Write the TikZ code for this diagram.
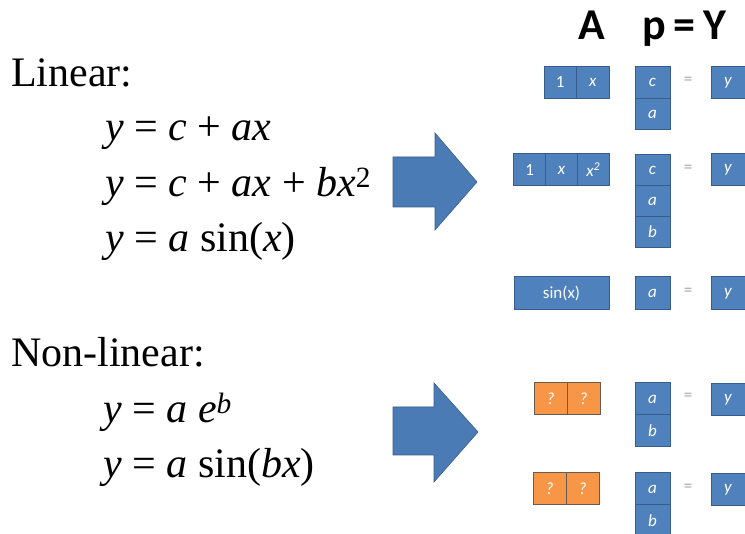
\documentclass[tikz,border=0pt]{standalone}
\usepackage{fontspec}
\setmainfont{Liberation Serif}
\newfontfamily\tnr{Liberation Serif}
\newfontfamily\carlito{Carlito}
\definecolor{blu}{HTML}{4F81BD}
\definecolor{bord}{HTML}{385D8A}
\definecolor{org}{HTML}{F79646}
\definecolor{obord}{HTML}{6B5B4E}
\begin{document}
\begin{tikzpicture}[x=1pt,y=-1pt,
  cellb/.style={draw=bord, fill=blu, line width=1pt, minimum width=33pt, minimum height=32pt, inner sep=0pt, text=white, font=\carlito\itshape\fontsize{17}{17}\selectfont},
  cello/.style={cellb, draw=obord, fill=org},
  eqs/.style={font=\fontsize{17}{17}\selectfont\carlito, text=gray!70},
  big/.style={font=\tnr\fontsize{42}{50}\selectfont, anchor=base west, inner sep=0pt},
  hdr/.style={font=\carlito\bfseries\fontsize{44}{44}\selectfont, anchor=base, inner sep=0pt},
  barrow/.style={fill=blu!95!black, draw=bord, line width=0.6pt}]
\useasboundingbox (0,0) rectangle (745,534);

% header
\node[hdr] (hA) at (592,40) {A};
\node[hdr] (hp) at (654,40) {p};
\node[hdr] (heq) at (684,40) {=};
\node[hdr] (hY) at (715,40) {Y};

% left text
\node[big] (lin) at (11,87) {Linear:};
\node[big] (e1) at (105,141) {\textit{y} = \textit{c} + \textit{ax}};
\node[big] (e2) at (105,197) {\textit{y} = \textit{c} + \textit{ax} + \textit{bx}\textsuperscript{2}};
\node[big] (e3) at (105,252) {\textit{y} = \textit{a} sin(\textit{x})};
\node[big] (nlin) at (11,367) {Non-linear:};
\node[big] (e4) at (103,423) {\textit{y} = \textit{a e}\textsuperscript{\textit{b}}};
\node[big] (e5) at (103,478) {\textit{y} = \textit{a} sin(\textit{bx})};

% block arrows
\draw[barrow] (393,157) -- (435,157) -- (435,133) -- (477,182) -- (435,230) -- (435,207) -- (393,207) -- cycle;
\draw[barrow] (393,407) -- (434,407) -- (434,383) -- (478,432) -- (434,482) -- (434,455) -- (393,455) -- cycle;

% row 1
\node[cellb, minimum width=32.5pt] (r1a1) at (560.25,82.5) {\upshape 1};
\node[cellb, minimum width=32.5pt] (r1a2) at (592.75,82.5) {x};
\node[cellb, minimum width=35pt] (r1p1) at (652.5,82.5) {c};
\node[cellb, minimum width=35pt, minimum height=31pt] (r1p2) at (652.5,114) {a};
\node[eqs] (r1eq) at (688,81) {=};
\node[cellb, minimum width=34pt] (r1y) at (728,82.5) {y};

% row 2
\node[cellb, minimum width=31.7pt] (r2a1) at (529.8,170) {\upshape 1};
\node[cellb, minimum width=31.7pt] (r2a2) at (561.5,170) {x};
\node[cellb, minimum width=31.7pt] (r2a3) at (593.2,170) {x\textsuperscript{2}};
\node[cellb, minimum width=35pt, minimum height=31pt] (r2p1) at (652.5,170) {c};
\node[cellb, minimum width=35pt, minimum height=31pt] (r2p2) at (652.5,201) {a};
\node[cellb, minimum width=35pt, minimum height=31pt] (r2p3) at (652.5,232) {b};
\node[eqs] (r2eq) at (688,169) {=};
\node[cellb, minimum width=34pt] (r2y) at (728,170) {y};

% row 3
\node[cellb, minimum width=95pt, minimum height=33pt] (r3a1) at (561.5,293.5) {\upshape sin(x)};
\node[cellb, minimum width=35pt, minimum height=33pt] (r3p1) at (652.5,293.5) {a};
\node[eqs] (r3eq) at (688,292) {=};
\node[cellb, minimum width=34pt, minimum height=33pt] (r3y) at (728,293.5) {y};

% row 4
\node[cello] (r4a1) at (550.5,398.5) {?};
\node[cello] (r4a2) at (583.5,398.5) {?};
\node[cellb, minimum width=35pt] (r4p1) at (652.5,399) {a};
\node[cellb, minimum width=35pt] (r4p2) at (652.5,431) {b};
\node[eqs] (r4eq) at (688,397) {=};
\node[cellb, minimum width=34pt] (r4y) at (728,399.5) {y};

% row 5
\node[cello] (r5a1) at (549.5,489) {?};
\node[cello] (r5a2) at (582.5,489) {?};
\node[cellb, minimum width=35pt] (r5p1) at (652.5,489) {a};
\node[cellb, minimum width=35pt] (r5p2) at (652.5,521) {b};
\node[eqs] (r5eq) at (688,488) {=};
\node[cellb, minimum width=34pt] (r5y) at (728,490) {y};
\end{tikzpicture}
\end{document}
